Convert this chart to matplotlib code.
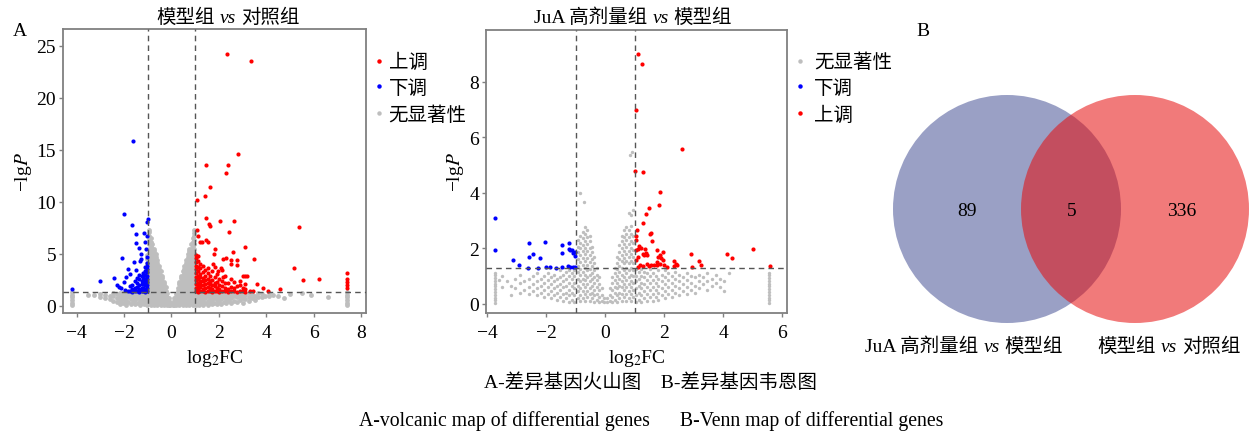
import numpy as np
import matplotlib
matplotlib.use('Agg')
import matplotlib.pyplot as plt
from matplotlib.patches import Circle
from matplotlib.lines import Line2D

plt.rcParams['font.family'] = ['Liberation Serif', 'Noto Sans CJK SC']
plt.rcParams['mathtext.fontset'] = 'stix'
plt.rcParams['axes.unicode_minus'] = True

# ---------------- panel A1: 模型组 vs 对照组 (x = log2FC, y = -lgP) ----------------
# grey = no significance, written as (x, [y, y, ...]) columns read off the cloud
grey1_left = [
    (-0.04, [0.05, 0.3]),
    (-0.1, [0.1, 0.45, 0.75]),
    (-0.17, [0.05, 0.45, 0.85, 1.25]),
    (-0.24, [0.2, 0.6, 1.0, 1.4, 1.8]),
    (-0.31, [0.05, 0.45, 0.85, 1.25, 1.65, 2.05, 2.3]),
    (-0.38, [0.25, 0.65, 1.05, 1.45, 1.85, 2.25, 2.65, 2.85]),
    (-0.45, [0.1, 0.5, 0.9, 1.3, 1.7, 2.1, 2.5, 2.9, 3.3]),
    (-0.52, [0.3, 0.7, 1.1, 1.5, 1.9, 2.3, 2.7, 3.1, 3.5, 3.85]),
    (-0.59, [0.1, 0.5, 0.9, 1.3, 1.7, 2.1, 2.5, 2.9, 3.3, 3.7, 4.1, 4.4]),
    (-0.66, [0.3, 0.7, 1.1, 1.5, 1.9, 2.3, 2.7, 3.1, 3.5, 3.9, 4.3, 4.7, 4.95]),
    (-0.73, [0.1, 0.5, 0.9, 1.3, 1.7, 2.1, 2.5, 2.9, 3.3, 3.7, 4.1, 4.5, 4.9, 5.3, 5.5]),
    (-0.8, [0.3, 0.7, 1.1, 1.5, 1.9, 2.3, 2.7, 3.1, 3.5, 3.9, 4.3, 4.7, 5.1, 5.5, 5.9]),
    (-0.87, [0.1, 0.5, 0.9, 1.3, 1.7, 2.1, 2.5, 2.9, 3.3, 3.7, 4.1, 4.5, 4.9, 5.3, 5.7, 6.1, 6.5]),
    (-0.94, [0.3, 0.7, 1.1, 1.5, 1.9, 2.3, 2.7, 3.1, 3.5, 3.9, 4.3, 4.7, 5.1, 5.5, 5.9, 6.3, 6.7, 7.05, 7.3]),
    (-1.01, [0.1, 0.5, 0.9, 1.3, 1.7, 2.1, 2.5, 2.9, 3.3, 3.7, 4.1, 4.5, 4.9]),
    (-1.08, [0.3, 0.7, 1.1, 1.5, 1.9, 2.3, 2.7, 3.1, 3.6]),
    (-1.16, [0.15, 0.55, 0.95, 1.25]),
    (-1.25, [0.3, 0.7, 1.1]),
    (-1.34, [0.1, 0.5, 0.9, 1.25]),
    (-1.43, [0.3, 0.7, 1.1]),
    (-1.52, [0.15, 0.55, 0.95, 1.25]),
    (-1.62, [0.35, 0.75, 1.1]),
    (-1.72, [0.2, 0.6, 1.0, 1.25]),
    (-1.82, [0.4, 0.8, 1.15]),
    (-1.93, [0.1, 0.45, 0.8, 1.15]),
    (-2.04, [0.25, 0.6, 0.95, 1.25]),
    (-2.16, [0.15, 0.5, 0.85, 1.2]),
    (-2.3, [0.35, 0.75, 1.1]),
    (-2.45, [0.5, 0.9, 1.2]),
    (-2.6, [0.6, 0.95]),
    (-2.8, [0.7, 1.05]),
    (-3.0, [0.85, 1.1]),
    (-3.25, [1.0]),
    (-3.5, [1.05]),
    (-4.17, [0.05, 0.3, 0.55, 0.8, 1.05, 1.3]),
]
grey1_right = [
    (0.06, [0.05, 0.3]),
    (0.12, [0.1, 0.45, 0.75]),
    (0.19, [0.05, 0.4, 0.8, 1.15]),
    (0.26, [0.2, 0.6, 1.0, 1.4, 1.75]),
    (0.33, [0.05, 0.45, 0.85, 1.25, 1.65, 2.05, 2.3]),
    (0.4, [0.25, 0.65, 1.05, 1.45, 1.85, 2.25, 2.65, 2.9]),
    (0.47, [0.1, 0.5, 0.9, 1.3, 1.7, 2.1, 2.5, 2.9, 3.3]),
    (0.54, [0.3, 0.7, 1.1, 1.5, 1.9, 2.3, 2.7, 3.1, 3.5, 3.85]),
    (0.61, [0.1, 0.5, 0.9, 1.3, 1.7, 2.1, 2.5, 2.9, 3.3, 3.7, 4.1, 4.4]),
    (0.68, [0.3, 0.7, 1.1, 1.5, 1.9, 2.3, 2.7, 3.1, 3.5, 3.9, 4.3, 4.7, 4.95]),
    (0.75, [0.1, 0.5, 0.9, 1.3, 1.7, 2.1, 2.5, 2.9, 3.3, 3.7, 4.1, 4.5, 4.9, 5.3, 5.5]),
    (0.82, [0.3, 0.7, 1.1, 1.5, 1.9, 2.3, 2.7, 3.1, 3.5, 3.9, 4.3, 4.7, 5.1, 5.5, 5.9]),
    (0.89, [0.1, 0.5, 0.9, 1.3, 1.7, 2.1, 2.5, 2.9, 3.3, 3.7, 4.1, 4.5, 4.9, 5.3, 5.7, 6.1, 6.5]),
    (0.95, [0.3, 0.7, 1.1, 1.5, 1.9, 2.3, 2.7, 3.1, 3.5, 3.9, 4.3, 4.7, 5.1, 5.5, 5.9, 6.3, 6.7, 7.0, 7.3]),
    (1.02, [0.1, 0.5, 0.9, 1.25]),
    (1.1, [0.3, 0.7, 1.1]),
    (1.18, [0.1, 0.5, 0.9, 1.25]),
    (1.26, [0.3, 0.7, 1.1]),
    (1.34, [0.1, 0.5, 0.9, 1.25]),
    (1.43, [0.3, 0.7, 1.1]),
    (1.52, [0.1, 0.5, 0.9, 1.25]),
    (1.61, [0.3, 0.7, 1.1]),
    (1.7, [0.15, 0.55, 0.95, 1.25]),
    (1.8, [0.3, 0.7, 1.1]),
    (1.9, [0.15, 0.55, 0.95, 1.25]),
    (2.0, [0.35, 0.75, 1.1]),
    (2.1, [0.2, 0.6, 1.0, 1.25]),
    (2.2, [0.4, 0.8, 1.15]),
    (2.31, [0.25, 0.65, 1.05]),
    (2.42, [0.45, 0.85, 1.2]),
    (2.53, [0.3, 0.7, 1.1]),
    (2.64, [0.5, 0.9, 1.2]),
    (2.76, [0.4, 0.8, 1.1]),
    (2.88, [0.55, 0.95, 1.2]),
    (3.0, [0.3, 0.7, 1.05]),
    (3.12, [0.65, 1.05]),
    (3.25, [0.45, 0.85, 1.2]),
    (3.38, [0.75, 1.1]),
    (3.52, [0.55, 0.95]),
    (3.66, [0.85, 1.2]),
    (3.8, [0.8, 1.1]),
    (3.95, [0.95]),
    (4.1, [0.9, 1.2]),
    (4.3, [1.05]),
    (4.5, [0.95]),
    (4.75, [0.7]),
    (5.0, [1.1]),
    (5.5, [1.2]),
    (5.9, [1.0]),
    (6.6, [0.85]),
    (7.42, [0.05, 0.3, 0.55, 0.8, 1.05, 1.3]),
]
down1 = [
    (-1.6, [15.8]), (-2.0, [8.78]), (-1.65, [7.72]), (-1.03, [8.05]), (-0.98, [8.35]),
    (-1.51, [6.92]), (-1.17, [6.99]), (-1.04, [6.66]), (-1.48, [6.06]), (-1.11, [6.12]),
    (-1.38, [5.55]), (-1.06, [5.41]), (-1.27, [5.0]), (-2.07, [4.58]), (-1.27, [4.5]),
    (-1.59, [4.2]), (-1.34, [4.26]), (-1.83, [3.49]), (-1.48, [3.4]), (-1.73, [3.08]),
    (-1.93, [2.76]), (-2.42, [2.66]), (-3.02, [2.37]), (-2.0, [2.3]), (-2.3, [2.02]),
    (-2.2, [1.8]), (-2.14, [1.67]), (-4.18, [1.6]),
    (-1.03, [1.4, 1.7, 2.0, 2.3, 2.6, 2.9, 3.2, 3.5, 3.8, 4.1, 4.7]),
    (-1.1, [1.35, 1.65, 1.95, 2.25, 2.6, 2.95, 3.3, 3.7]),
    (-1.18, [1.45, 1.75, 2.1, 2.45, 2.8, 3.15]),
    (-1.26, [1.4, 1.7, 2.05, 2.4, 2.9]),
    (-1.35, [1.35, 1.6, 2.0, 2.6, 3.0]),
    (-1.45, [1.45, 1.8, 2.2, 2.7]),
    (-1.55, [1.4, 1.75, 2.35]),
    (-1.65, [1.35, 1.6, 2.0]),
    (-1.75, [1.45, 1.85]),
    (-1.85, [1.4]),
    (-1.95, [1.5]),
]
up1 = [
    (2.33, [24.2]), (3.36, [23.5]), (2.82, [14.6]), (1.44, [13.5]), (2.39, [13.5]),
    (2.32, [12.8]), (1.62, [11.4]), (1.06, [10.2]), (1.41, [10.5]), (1.44, [8.45]),
    (2.06, [8.15]), (2.65, [8.15]), (1.59, [7.9]), (1.64, [7.7]), (2.42, [7.05]),
    (5.37, [7.6]), (1.06, [7.25]), (1.1, [6.7]), (1.44, [6.35]), (1.55, [6.15]),
    (1.2, [6.1]), (1.3, [6.1]), (1.83, [5.5]), (3.1, [5.65]), (1.8, [5.0]),
    (2.58, [5.15]), (2.18, [4.5]), (2.28, [4.6]), (2.52, [4.4, 4.05]), (2.76, [4.4, 3.95]),
    (3.49, [4.45]), (5.15, [3.6]), (3.1, [2.9]), (3.2, [2.9]), (5.56, [2.45]),
    (6.22, [2.55]), (3.62, [2.1]), (3.87, [1.75]), (4.58, [1.65]), (4.06, [1.4]),
    (7.42, [3.1, 2.6, 2.3, 2.0, 1.7]),
    (1.76, [4.0]), (1.83, [3.7]), (2.1, [3.6]), (1.97, [3.3]), (2.18, [2.8]),
    (1.03, [1.4, 1.75, 2.1, 2.45, 2.8, 3.15, 3.5, 3.85, 4.2, 4.55, 4.9]),
    (1.12, [1.35, 1.6, 1.9, 2.2, 2.55, 2.9, 3.3, 3.7, 4.3, 4.8]),
    (1.22, [1.45, 1.8, 2.1, 2.4, 2.75, 3.05, 3.6, 4.0]),
    (1.32, [1.4, 1.65, 2.0, 2.35, 2.7, 3.2, 3.8]),
    (1.42, [1.35, 1.7, 2.05, 2.5, 2.9, 3.4]),
    (1.52, [1.45, 1.8, 2.2, 2.6, 3.1, 3.65]),
    (1.62, [1.4, 1.75, 2.1, 2.4, 2.9]),
    (1.72, [1.35, 1.6, 2.0, 2.5, 3.3]),
    (1.82, [1.45, 1.85, 2.2, 2.75]),
    (1.92, [1.4, 1.7, 2.3, 3.05]),
    (2.02, [1.35, 1.6, 2.0, 2.55]),
    (2.12, [1.45, 1.9, 2.4, 3.4]),
    (2.25, [1.4, 1.75, 2.2, 2.9]),
    (2.38, [1.35, 1.65, 2.15]),
    (2.5, [1.45, 1.8, 2.6]),
    (2.62, [1.4, 1.7, 2.3]),
    (2.75, [1.35, 1.9]),
    (2.88, [1.45, 2.0, 2.4]),
    (3.0, [1.4, 1.75, 2.9]),
    (3.12, [1.35, 1.6, 2.05]),
    (3.3, [1.45]),
    (3.45, [1.4]),
]

# ---------------- panel A2: JuA 高剂量组 vs 模型组 ----------------
grey2_left = [
    (-0.05, [0.05, 0.2]),
    (-0.13, [0.1, 0.3, 0.55]),
    (-0.21, [0.05, 0.25, 0.5, 0.7, 0.95]),
    (-0.29, [0.15, 0.35, 0.6, 0.85, 1.05, 1.3]),
    (-0.37, [0.05, 0.3, 0.5, 0.75, 0.95, 1.2, 1.45, 1.7]),
    (-0.45, [0.2, 0.4, 0.65, 0.9, 1.1, 1.35, 1.6, 1.85, 2.05]),
    (-0.53, [0.1, 0.35, 0.55, 0.8, 1.05, 1.25, 1.5, 1.75, 2.0, 2.25, 2.45]),
    (-0.61, [0.25, 0.45, 0.7, 0.95, 1.2, 1.4, 1.65, 1.9, 2.15, 2.4, 2.65]),
    (-0.69, [0.1, 0.35, 0.6, 0.85, 1.05, 1.3, 1.55, 1.8, 2.0, 2.25, 2.5, 2.75]),
    (-0.77, [0.2, 0.45, 0.7, 0.9, 1.15, 1.4, 1.65, 1.9, 2.1, 2.35, 2.6]),
    (-0.85, [0.1, 0.3, 0.55, 0.8, 1.05, 1.25, 1.5, 1.75, 2.0, 2.2, 2.45, 3.99]),
    (-0.72, [3.66]),
    (-0.93, [0.2, 0.45, 0.65, 0.9, 1.15, 1.35, 1.6, 1.85, 2.05, 2.3]),
    (-1.05, [0.05, 0.3, 0.55, 0.75, 1.0, 1.2]),
    (-1.14, [0.15, 0.4, 0.65, 0.9, 1.1]),
    (-1.23, [0.05, 0.3, 0.5, 0.75, 1.0, 1.2]),
    (-1.33, [0.2, 0.4, 0.65, 0.9, 1.15]),
    (-1.43, [0.1, 0.35, 0.6, 0.8, 1.05]),
    (-1.53, [0.25, 0.5, 0.7, 0.95, 1.2]),
    (-1.63, [0.15, 0.4, 0.65, 0.9]),
    (-1.74, [0.3, 0.55, 0.8, 1.05]),
    (-1.85, [0.2, 0.45, 0.7, 0.95]),
    (-1.96, [0.35, 0.6, 0.85, 1.1]),
    (-2.08, [0.25, 0.5, 0.75, 1.0]),
    (-2.2, [0.4, 0.65, 0.9]),
    (-2.33, [0.3, 0.55, 0.8, 1.1]),
    (-2.46, [0.45, 0.7, 1.0]),
    (-2.6, [0.35, 0.6, 0.9]),
    (-2.75, [0.5, 0.8]),
    (-2.9, [0.4, 0.75, 1.05]),
    (-3.05, [0.55, 0.9]),
    (-3.2, [0.3, 0.65]),
    (-3.35, [0.8]),
    (-3.5, [0.6, 1.0]),
    (-3.62, [0.85]),
    (-3.73, [0.02, 0.12, 0.22, 0.32, 0.42, 0.52, 0.62, 0.72, 0.82, 0.92, 1.02, 1.12]),
]
grey2_right = [
    (0.07, [0.05, 0.2]),
    (0.15, [0.1, 0.3, 0.55]),
    (0.23, [0.05, 0.25, 0.5, 0.75, 0.95]),
    (0.31, [0.15, 0.4, 0.6, 0.85, 1.1, 1.3]),
    (0.39, [0.05, 0.3, 0.55, 0.75, 1.0, 1.25, 1.45, 1.7]),
    (0.47, [0.2, 0.4, 0.65, 0.9, 1.15, 1.35, 1.6, 1.85, 2.1]),
    (0.55, [0.1, 0.35, 0.6, 0.8, 1.05, 1.3, 1.55, 1.75, 2.0, 2.25, 2.45]),
    (0.63, [0.25, 0.5, 0.7, 0.95, 1.2, 1.45, 1.65, 1.9, 2.15, 2.4, 2.65]),
    (0.71, [0.1, 0.35, 0.6, 0.85, 1.1, 1.3, 1.55, 1.8, 2.05, 2.3, 2.5, 2.75]),
    (0.79, [0.2, 0.45, 0.7, 0.95, 1.2, 1.45, 1.7, 1.9, 2.15, 2.4, 2.65, 3.26]),
    (0.87, [0.1, 0.35, 0.6, 0.8, 1.05, 1.3, 1.55, 1.8, 2.0, 2.25, 2.5, 2.8, 3.2]),
    (0.93, [3.36]), (0.84, [5.35]), (0.9, [5.45]),
    (0.95, [0.25, 0.5, 0.75, 1.0, 1.2, 1.45, 1.7, 1.95, 2.2, 2.45]),
    (1.04, [0.05, 0.3, 0.55, 0.8, 1.0, 1.25]),
    (1.13, [0.15, 0.4, 0.65, 0.9, 1.15]),
    (1.22, [0.05, 0.3, 0.55, 0.75, 1.0, 1.25]),
    (1.31, [0.2, 0.45, 0.7, 0.95, 1.15]),
    (1.4, [0.1, 0.35, 0.6, 0.85, 1.1]),
    (1.5, [0.25, 0.5, 0.75, 1.0, 1.25]),
    (1.6, [0.1, 0.35, 0.6, 0.85, 1.1]),
    (1.7, [0.25, 0.5, 0.75, 1.0]),
    (1.8, [0.15, 0.4, 0.65, 0.9, 1.2]),
    (1.91, [0.3, 0.55, 0.8, 1.05]),
    (2.02, [0.2, 0.45, 0.7, 0.95, 1.2]),
    (2.13, [0.35, 0.6, 0.85, 1.1]),
    (2.25, [0.25, 0.5, 0.75, 1.0]),
    (2.37, [0.4, 0.65, 0.9, 1.15]),
    (2.5, [0.3, 0.55, 0.8, 1.05]),
    (2.63, [0.45, 0.7, 0.95]),
    (2.76, [0.35, 0.6, 0.85, 1.1]),
    (2.9, [0.5, 0.75, 1.0]),
    (3.04, [0.4, 0.65, 0.95]),
    (3.18, [0.55, 0.8, 1.05]),
    (3.32, [0.7, 0.95]),
    (3.46, [0.5, 0.8, 1.1]),
    (3.6, [0.65, 0.9]),
    (3.75, [0.75, 1.05]),
    (3.9, [0.6, 0.9]),
    (4.02, [0.45, 0.8]),
    (4.2, [1.1]),
    (5.55, [0.02, 0.12, 0.22, 0.32, 0.42, 0.52, 0.62, 0.72, 0.82, 0.92, 1.02, 1.12]),
]
down2 = [
    (-3.73, [3.09, 1.94]), (-3.15, [1.56]), (-2.94, [1.39]), (-2.6, [2.19, 1.69]),
    (-2.47, [1.79]), (-2.62, [1.3]), (-2.04, [2.21]), (-2.22, [1.64]), (-2.02, [1.34]),
    (-2.28, [1.3]), (-1.89, [1.33]), (-1.68, [1.3]), (-1.46, [1.32]), (-1.47, [2.12, 1.82]),
    (-1.22, [2.17]), (-1.23, [1.98]), (-1.19, [1.94]), (-1.12, [1.92]), (-1.04, [1.88]),
    (-1.1, [1.82]), (-1.04, [1.71]), (-1.26, [1.36]), (-1.19, [1.32]), (-1.1, [1.31]),
    (-1.02, [1.33]),
]
up2 = [
    (1.12, [8.99]), (1.25, [8.63]), (1.03, [6.99]), (2.61, [5.58]), (1.01, [4.77]),
    (1.28, [4.75]), (1.86, [4.02]), (1.82, [3.57]), (1.48, [3.45]), (1.37, [3.23]),
    (1.26, [2.91]), (1.08, [2.67]), (1.51, [2.52]), (1.54, [2.55]), (1.05, [2.43]),
    (1.03, [2.28]), (1.59, [2.26]), (1.14, [2.07]), (1.11, [1.98]), (1.2, [2.0]),
    (1.33, [1.96]), (1.03, [1.92]), (1.37, [1.83]), (1.26, [1.8]), (1.31, [1.74]),
    (1.42, [1.76]), (1.09, [1.7]), (1.03, [1.56]), (1.76, [1.92]), (1.97, [1.88]),
    (1.85, [1.76]), (1.8, [1.68]), (1.9, [1.64]), (1.97, [1.58]), (1.74, [1.5]),
    (1.85, [1.44]), (1.99, [1.38]), (2.08, [1.32]), (2.33, [1.54]), (2.39, [1.44]),
    (2.44, [1.4]), (2.33, [1.36]), (1.42, [1.44]), (1.48, [1.36]), (1.54, [1.4]),
    (1.65, [1.38]), (1.76, [1.38]), (1.18, [1.38]), (1.29, [1.36]), (1.09, [1.31]),
    (2.92, [1.79]), (2.93, [1.34]), (3.19, [1.55]), (3.25, [1.4]), (4.14, [1.78]),
    (4.31, [1.64]), (5.02, [1.98]), (5.57, [1.36]),
]

# ---------------- panel B: Venn ----------------
comparisons = [('JuA 高剂量组', '模型组'), ('模型组', '对照组')]
venn_counts = [89, 5, 336]  # only left, shared, only right


def expand(cols):
    xs, ys = [], []
    for x, yl in cols:
        xs += [x] * len(yl)
        ys += yl
    return np.array(xs), np.array(ys)


GREY = '#bebebe'
fig = plt.figure(figsize=(12.51, 4.35), dpi=100)
renderer = fig.canvas.get_renderer()

# full-figure overlay in pixel units for the venn, titles and captions
bg = fig.add_axes([0, 0, 1, 1])
bg.set_xlim(0, 1251)
bg.set_ylim(435, 0)
bg.axis('off')


def vs_text(xc, y, pair, size=14, gap=5):
    # "A vs B" with an italic vs, centred on xc, baseline at y (pixels)
    parts = [(pair[0], 'normal'), ('vs', 'italic'), (pair[1], 'normal')]
    widths = []
    for s, st in parts:
        t = bg.text(0, 0, s, fontsize=size, style=st)
        widths.append(t.get_window_extent(renderer).width)
        t.remove()
    x = xc - (sum(widths) + gap * 2) / 2
    for (s, st), w in zip(parts, widths):
        bg.text(x, y, s, fontsize=size, style=st, ha='left', va='baseline')
        x += w + gap


bg.add_patch(Circle((1007, 210), 114, fc='#9aa0c5', ec='none'))
bg.add_patch(Circle((1135, 210), 114, fc='#e70b0b', ec='none', alpha=0.545))
bg.text(967, 212, str(venn_counts[0]), fontsize=14, ha='center', va='center')
bg.text(1072, 212, str(venn_counts[1]), fontsize=14, ha='center', va='center')
bg.text(1182, 212, str(venn_counts[2]), fontsize=14, ha='center', va='center')
vs_text(964, 352, comparisons[0])
vs_text(1169, 352, comparisons[1])

# panel titles
vs_text(228, 23, comparisons[1])
vs_text(633, 23, comparisons[0])

bg.text(20, 31, 'A', fontsize=14, ha='center', va='center')
bg.text(923, 31, 'B', fontsize=14, ha='center', va='center')
bg.text(651, 383, 'A-差异基因火山图\u3000B-差异基因韦恩图', fontsize=14, ha='center', va='center')
bg.text(651, 421, 'A-volcanic map of differential genes      B-Venn map of differential genes',
        fontsize=14.2, ha='center', va='center')


def volcano(rect, grey_cols, down, up, xlim, ylim, xticks, yticks,
            order, leg_anchor, leg_pad, gs):
    ax = fig.add_axes(rect)
    gx, gy = expand(grey_cols)
    dx, dy = expand(down)
    ux, uy = expand(up)
    ax.scatter(gx, gy, s=gs, c=GREY, lw=0, zorder=1)
    ax.scatter(dx, dy, s=9, c='#0000ff', lw=0, zorder=2)
    ax.scatter(ux, uy, s=9, c='#ff0000', lw=0, zorder=2)
    for v in (-1, 1):
        ax.axvline(v, color='#555555', lw=1, ls=(0, (4, 3)), zorder=3)
    ax.axhline(-np.log10(0.05), color='#555555', lw=1, ls=(0, (4, 3)), zorder=3)
    ax.set_xlim(*xlim)
    ax.set_ylim(*ylim)
    ax.set_xticks(xticks)
    ax.set_yticks(yticks)
    for sp in ax.spines.values():
        sp.set_color('#808080')
        sp.set_linewidth(1.3)
    ax.tick_params(labelsize=14, length=3, width=1, color='#808080')
    ax.tick_params(axis='x', pad=5)
    ax.tick_params(axis='y', pad=2)
    ax.set_xlabel('log$_2$FC', fontsize=14, labelpad=4)
    ax.set_ylabel('\u2212lg$\\mathit{P}$', fontsize=14, labelpad=2)

    styles = {'上调': '#ff0000', '下调': '#0000ff', '无显著性': GREY}
    handles = [Line2D([], [], ls='none', marker='o', ms=3.2, mfc=styles[k], mec='none', label=k)
               for k in order]
    ax.legend(handles=handles, loc='upper left', bbox_to_anchor=leg_anchor, frameon=False,
              fontsize=14, handlelength=0.6, handletextpad=leg_pad, labelspacing=0.42,
              borderpad=0, borderaxespad=0)
    return ax


volcano([63 / 1251, 1 - 314 / 435, 303 / 1251, 284 / 435], grey1_left + grey1_right, down1, up1,
        (-4.57, 8.2), (-0.7, 26.6), [-4, -2, 0, 2, 4, 6, 8], [0, 5, 10, 15, 20, 25],
        ['上调', '下调', '无显著性'], (1.023, 0.915), 0.2, 12)
volcano([486 / 1251, 1 - 314 / 435, 301 / 1251, 283 / 435], grey2_left + grey2_right, down2, up2,
        (-4.05, 6.16), (-0.335, 9.86), [-4, -2, 0, 2, 4, 6], [0, 2, 4, 6, 8],
        ['无显著性', '下调', '上调'], (1.025, 0.919), 0.42, 6)

fig.savefig('out.png', dpi=100)
